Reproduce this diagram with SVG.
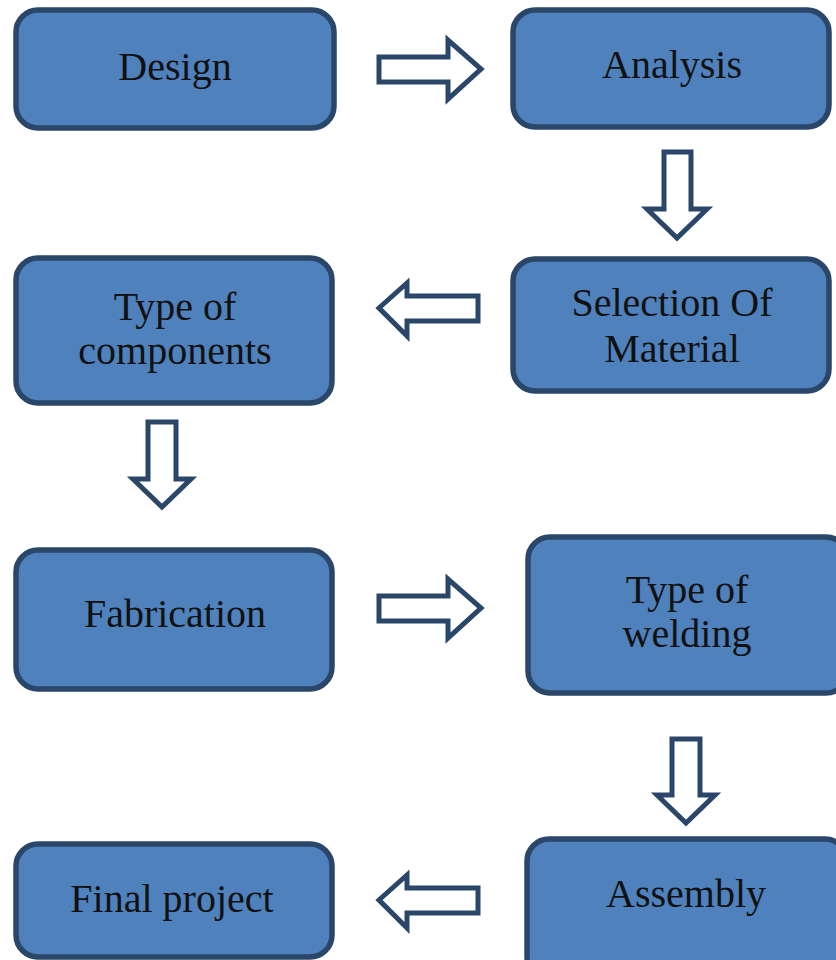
<svg xmlns="http://www.w3.org/2000/svg" width="836" height="960" viewBox="0 0 836 960">
<style>
.box{fill:#4F81BD;stroke:#2A4669;stroke-width:5.5}
.arr{fill:#FFFFFF;stroke:#2A4669;stroke-width:5;stroke-linejoin:miter}
.t{font-family:"Liberation Serif","Times New Roman",serif;font-size:40px;fill:#111;text-anchor:middle}
</style>
<rect width="836" height="960" fill="#FFFFFF"/>
<g id="design"><rect class="box" x="16" y="10" width="318" height="118" rx="22"/><text class="t" x="175" y="80">Design</text></g>
<g id="analysis"><rect class="box" x="513" y="10" width="316" height="117" rx="22"/><text class="t" x="672" y="78">Analysis</text></g>
<g id="selection"><rect class="box" x="513" y="259" width="316" height="132" rx="22"/><text class="t" x="672" y="316">Selection Of</text><text class="t" x="672" y="362">Material</text></g>
<g id="components"><rect class="box" x="16" y="258" width="316" height="145" rx="22"/><text class="t" x="175" y="320">Type of</text><text class="t" x="175" y="364">components</text></g>
<g id="fabrication"><rect class="box" x="16" y="550" width="316" height="139" rx="22"/><text class="t" x="175" y="627">Fabrication</text></g>
<g id="welding"><rect class="box" x="528" y="537" width="320" height="156" rx="22"/><text class="t" x="687" y="603">Type of</text><text class="t" x="687" y="647">welding</text></g>
<g id="assembly"><rect class="box" x="527" y="839" width="320" height="140" rx="22"/><text class="t" x="686" y="907">Assembly</text></g>
<g id="final"><rect class="box" x="16" y="844" width="316" height="113" rx="22"/><text class="t" x="172" y="912">Final project</text></g>
<g id="connectors">
<polygon class="arr" points="379,57 448,57 448,40 481,69 448,99 448,82 379,82"/>
<polygon class="arr" points="664,152 691,152 691,209 707,209 677,238 647,209 664,209"/>
<polygon class="arr" points="478,296 407,296 407,283 379,308 407,336 407,321 478,321"/>
<polygon class="arr" points="148,422 176,422 176,479 191,479 162,507 133,479 148,479"/>
<polygon class="arr" points="379,596 448,596 448,579 481,608 448,638 448,621 379,621"/>
<polygon class="arr" points="672,739 700,739 700,795 715,795 686,823 657,795 672,795"/>
<polygon class="arr" points="478,888 407,888 407,875 379,900 407,928 407,913 478,913"/>
</g>
</svg>
